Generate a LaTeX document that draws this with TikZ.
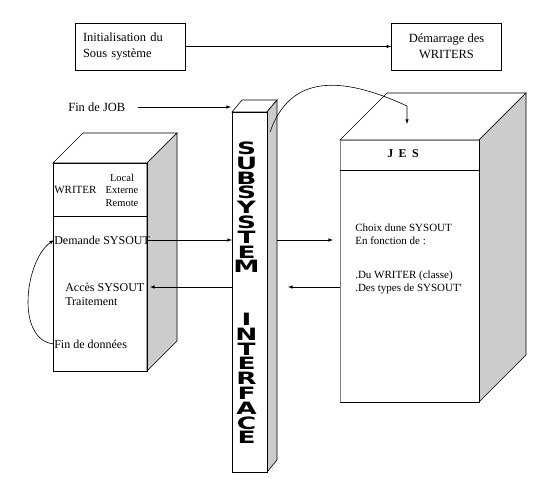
\documentclass[tikz,border=0pt]{standalone}
\usepackage{fontspec}
\setmainfont{Liberation Serif}
\newfontfamily\heavyfont{DejaVu Sans}
\usepackage{tikz}
\usetikzlibrary{arrows}
\definecolor{sidegray}{RGB}{204,204,204}

\begin{document}
\begin{tikzpicture}[x=1pt,y=-1pt,>=latex,line width=0.6pt,
	txt/.style={inner sep=0pt,align=left,font=\fontsize{12}{14}\selectfont},
	small/.style={inner sep=0pt,align=center,font=\fontsize{10.5}{12.5}\selectfont},
	jestxt/.style={inner sep=0pt,align=left,font=\fontsize{11}{13}\selectfont},
	topbox/.style={draw,minimum width=110pt,minimum height=47pt,inner sep=0pt,font=\fontsize{12.5}{16}\selectfont},
	letter/.style={inner sep=0pt,text height=12pt,text depth=0pt,font=\heavyfont\bfseries\fontsize{17}{17}\selectfont},
	face/.style={draw,fill=sidegray}]
	 \useasboundingbox (0,0) rectangle (538,498);
	 \node[topbox,text width=94pt,align=left,inner xsep=8pt] (init) at (130,46.5) {Initialisation du\\Sous système};
	 \node[topbox,align=center] (demar) at (446.5,46.5) {Démarrage des\\WRITERS};
	 \draw[->] (init) -- (demar);
	 % WRITER
	 \draw[fill=white] (83,133) -- (177,133) -- (147,163) -- (53,163) -- cycle;
	 \draw[face] (147,163) -- (177,133) -- (177,341) -- (147,371) -- cycle;
	 \draw (53,163) rectangle (147,371);
	 \draw (53,216) -- (147,216);
	 \node[small,anchor=west,font=\fontsize{11}{13}\selectfont] (writer) at (54,190) {WRITER};
	 \node[small] (modes) at (122,190) {Local\\Externe\\Remote};
	 \node[txt,anchor=west] (demande) at (54,240) {Demande SYSOUT};
	 \node[txt,anchor=west] (acces) at (65,294) {Accès SYSOUT\\Traitement};
	 \node[txt,anchor=west] (findon) at (54,344) {Fin de données};
	 % SUBSYSTEM INTERFACE
	 \draw[fill=white] (242,100) -- (277,100) -- (267,112) -- (232,112) -- cycle;
	 \draw[face] (267,112) -- (277,100) -- (277,460) -- (267,472) -- cycle;
	 \draw[fill=white] (232,112) rectangle (267,472);
	 \foreach \l [count=\i] in {S,U,B,S,Y,S,T,E,M}
	 	\node[letter] (sub\i) at (246.5,{148.5+14.8*(\i-1)}) {\scalebox{1.55}[1]{\l}};
	 \foreach \l [count=\i] in {I,N,T,E,R,F,A,C,E}
	 	\node[letter] (int\i) at (246.5,{319.5+14.8*(\i-1)}) {\scalebox{1.55}[1]{\l}};
	 % JES
	 \draw[fill=white] (387,93) -- (526,93) -- (479,140) -- (340,140) -- cycle;
	 \draw[face] (479,140) -- (526,93) -- (526,355) -- (479,402) -- cycle;
	 \draw[fill=white,draw=gray] (340,140) rectangle (479,402);
	 \draw (479,140) -- (479,402) -- (340,402);
	 \draw (340,170) -- (479,170);
	 \node[font=\bfseries\fontsize{12}{14}\selectfont] (jes) at (403,154) {J\hspace{0.45em}E\hspace{0.45em}S};
	 \node[jestxt,anchor=west] (choix) at (355,234.5) {Choix dune SYSOUT\\En fonction de :};
	 \node[jestxt,anchor=west] (criteres) at (355,282.5) {.Du WRITER (classe)\\.Des types de SYSOUT\textquotesingle};
	 \node[txt,anchor=west,font=\fontsize{12.5}{14}\selectfont] (finjob) at (68,107) {Fin de JOB};
	 \coordinate (coltop) at (231,107);
	 \coordinate (colside) at (270,132);
	 \coordinate (jestop) at (407,124);
	 \coordinate (wrE1) at (147,240);
	 \coordinate (colW1) at (232,240);
	 \coordinate (colE1) at (277,240);
	 \coordinate (jesW1) at (333,240);
	 \coordinate (jesW2) at (340,287);
	 \coordinate (colE2) at (288,287);
	 \coordinate (colW2) at (232,287);
	 \coordinate (wrE2) at (150,287);
	 \draw[->,shorten <=12pt] (finjob) -- (coltop);
	 \draw[->] (colside) .. controls (290,75) and (340,75) .. (407,106) -- (jestop);
	 \draw[->] (wrE1) -- (colW1);
	 \draw[->] (colE1) -- (jesW1);
	 \draw[->] (jesW2) -- (colE2);
	 \draw[->] (colW2) -- (wrE2);
	 \draw[->] (findon.west) .. controls (15,340) and (25,260) .. (demande.west);
	 \end{tikzpicture}
\end{document}
